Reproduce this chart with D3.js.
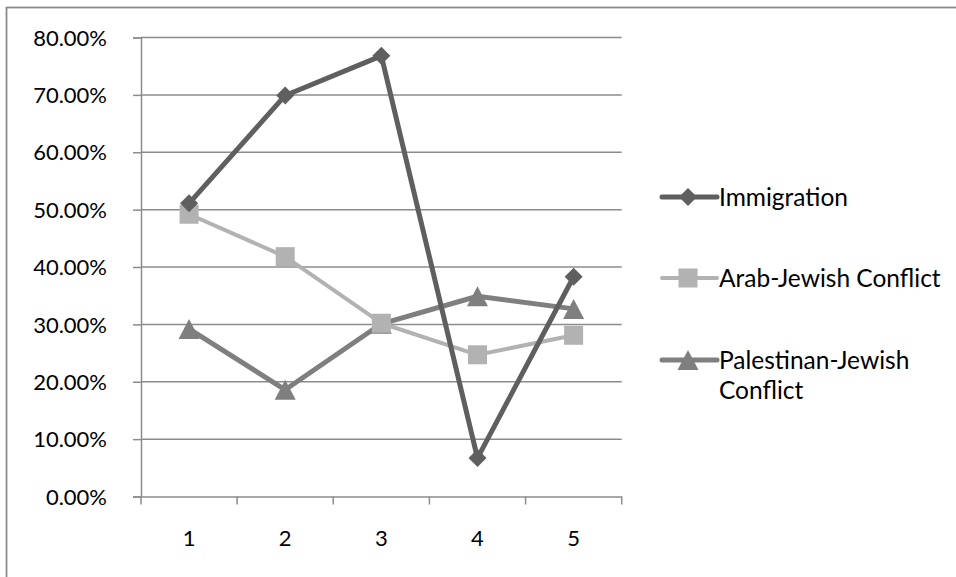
<!DOCTYPE html>
<html><head><meta charset="utf-8">
<script src="https://cdn.jsdelivr.net/npm/d3@7"></script>
<style>body{margin:0;background:#fff}svg{display:block}text{font-family:Lato,"Open Sans",sans-serif;fill:#000}</style>
</head><body>
<svg id="c" width="956" height="577"></svg>
<script>
const categories = ["1","2","3","4","5"];
const yTicks = [0,0.1,0.2,0.3,0.4,0.5,0.6,0.7,0.8];
const seriesNames = ["Immigration","Arab-Jewish Conflict","Palestinan-Jewish Conflict"];
const immigration = [0.511,0.699,0.768,0.067,0.383];
const arabJewish = [0.492,0.418,0.302,0.247,0.281];
const palestinianJewish = [0.292,0.186,0.301,0.349,0.327];

const svg = d3.select("#c");
const margin = {left:141, top:37.5, right:621.7, bottom:496.5};
const x = d3.scaleBand().domain(categories).range([margin.left, margin.right]);
const y = d3.scaleLinear().domain([0,0.8]).range([margin.bottom, margin.top]);

svg.append("rect").attr("x",6.5).attr("y",7.5).attr("width",1000).attr("height",1000)
  .attr("fill","none").attr("stroke","#8a8a8a").attr("stroke-width",1.8);

const gridColor = "#8c8c8c";
svg.append("g").selectAll("line").data(yTicks.filter(d=>d>0)).join("line")
  .attr("x1",margin.left).attr("x2",margin.right)
  .attr("y1",d=>y(d)).attr("y2",d=>y(d))
  .attr("stroke",gridColor).attr("stroke-width",1.5);

const yAxis = svg.append("g").attr("transform",`translate(${margin.left},0)`)
  .call(d3.axisLeft(y).tickValues(yTicks).tickFormat(d3.format(".2%")).tickSize(8).tickPadding(26));
yAxis.select(".domain").attr("stroke",gridColor).attr("stroke-width",1.5);
yAxis.selectAll(".tick line").attr("stroke",gridColor).attr("stroke-width",1.5);
yAxis.selectAll("text").attr("font-size",22).attr("fill","#000").attr("dy","0.35em").attr("font-family","Lato");

const xAxis = svg.append("g").attr("transform",`translate(0,${margin.bottom})`)
  .call(d3.axisBottom(x).tickSize(0));
xAxis.select(".domain").attr("stroke",gridColor).attr("stroke-width",1.5);
xAxis.selectAll("text").attr("font-size",22).attr("fill","#000").attr("font-family","Lato").attr("dy","0.35em").attr("y",42);
const bounds = d3.range(categories.length+1).map(i=>margin.left + i*x.step());
svg.append("g").selectAll("line").data(bounds).join("line")
  .attr("x1",d=>d).attr("x2",d=>d).attr("y1",margin.bottom).attr("y2",margin.bottom+8)
  .attr("stroke",gridColor).attr("stroke-width",1.5);

const cx = d => x(d) + x.bandwidth()/2;
const series = [
  {name:seriesNames[0], values:immigration, color:"#5f5f5f", width:5, symbol:"diamond"},
  {name:seriesNames[1], values:arabJewish, color:"#b2b2b2", width:4, symbol:"square"},
  {name:seriesNames[2], values:palestinianJewish, color:"#7f7f7f", width:5, symbol:"triangle"}
];
function marker(sel, s, px, py){
  if(s.symbol==="diamond"){
    const r=9;
    sel.append("path").attr("d",`M${px},${py-r}L${px+r},${py}L${px},${py+r}L${px-r},${py}Z`).attr("fill",s.color);
  } else if(s.symbol==="square"){
    const r=9.5;
    sel.append("rect").attr("x",px-r).attr("y",py-r).attr("width",2*r).attr("height",2*r).attr("fill",s.color);
  } else {
    const w=10.5,h=20;
    sel.append("path").attr("d",`M${px},${py-h/2}L${px+w},${py+h/2}L${px-w},${py+h/2}Z`).attr("fill",s.color);
  }
}
const line = d3.line().x((d,i)=>cx(categories[i])).y(d=>y(d));
[2,1,0].forEach(k=>{
  const s=series[k];
  const g=svg.append("g");
  g.append("path").attr("d",line(s.values)).attr("fill","none").attr("stroke",s.color)
   .attr("stroke-width",s.width).attr("stroke-linejoin","round");
  s.values.forEach((v,i)=>marker(g,s,cx(categories[i]),y(v)));
});

const legendY = [197, 278, 360];
series.forEach((s,k)=>{
  const g=svg.append("g");
  const ly=legendY[k];
  g.append("line").attr("x1",662).attr("x2",717).attr("y1",ly).attr("y2",ly).attr("stroke",s.color).attr("stroke-width",s.width).attr("stroke-linecap","round");
  marker(g,s,688,ly);
  const t=g.append("text").attr("x",719).attr("y",ly).attr("dy","0.35em").attr("font-size",24.5);
  if(k===2){
    t.text("Palestinan-Jewish");
    g.append("text").attr("x",719).attr("y",ly+30).attr("dy","0.35em").attr("font-size",24.5).text("Conflict");
  } else t.text(s.name);
});
</script>
</body></html>
